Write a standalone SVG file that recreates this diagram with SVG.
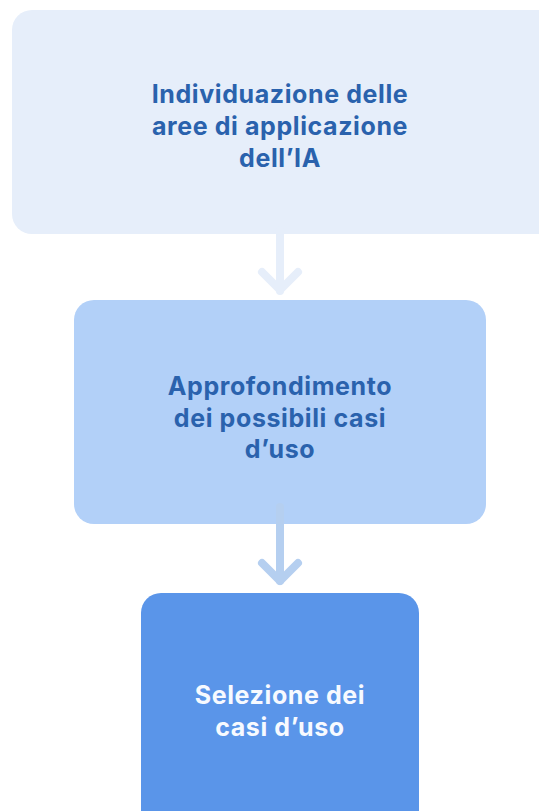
<svg xmlns="http://www.w3.org/2000/svg" width="539" height="811" viewBox="0 0 539 811">
<style>
.t{font-family:Inter,"Open Sans","Liberation Sans",sans-serif;font-weight:700;font-size:25px;letter-spacing:0.6px;text-anchor:middle}
.dark{fill:#2a62ad}
.light{fill:#f7faff}
.c{fill:none;stroke-width:8;stroke-linecap:round;stroke-linejoin:round}
</style>
<rect width="539" height="811" fill="#ffffff"/>
<g id="n1">
<rect x="12" y="10" width="550" height="224" rx="20" fill="#e6eefa"/>
<text class="t dark" x="280" y="103">Individuazione delle</text>
<text class="t dark" x="280" y="135">aree di applicazione</text>
<text class="t dark" x="280" y="167">dell’IA</text>
</g>
<g id="n2">
<rect x="74" y="300" width="412" height="224" rx="20" fill="#b2d0f8"/>
<text class="t dark" x="280" y="395">Approfondimento</text>
<text class="t dark" x="280" y="427">dei possibili casi</text>
<text class="t dark" x="280" y="458">d’uso</text>
</g>
<g id="n3">
<rect x="141" y="593" width="278" height="240" rx="20" fill="#5a95e9"/>
<text class="t light" x="280" y="704">Selezione dei</text>
<text class="t light" x="280" y="736">casi d’uso</text>
</g>
<g id="connectors">
<g id="c1" class="c" stroke="#e6eefa">
<path d="M280 230 V291"/>
<path d="M262 272 L280 290 L298 272"/>
</g>
<g id="c2" class="c" stroke="#b5cff0">
<path d="M280 507 V581"/>
<path d="M262 563 L280 581 L298 563"/>
</g>
</g>
</svg>
